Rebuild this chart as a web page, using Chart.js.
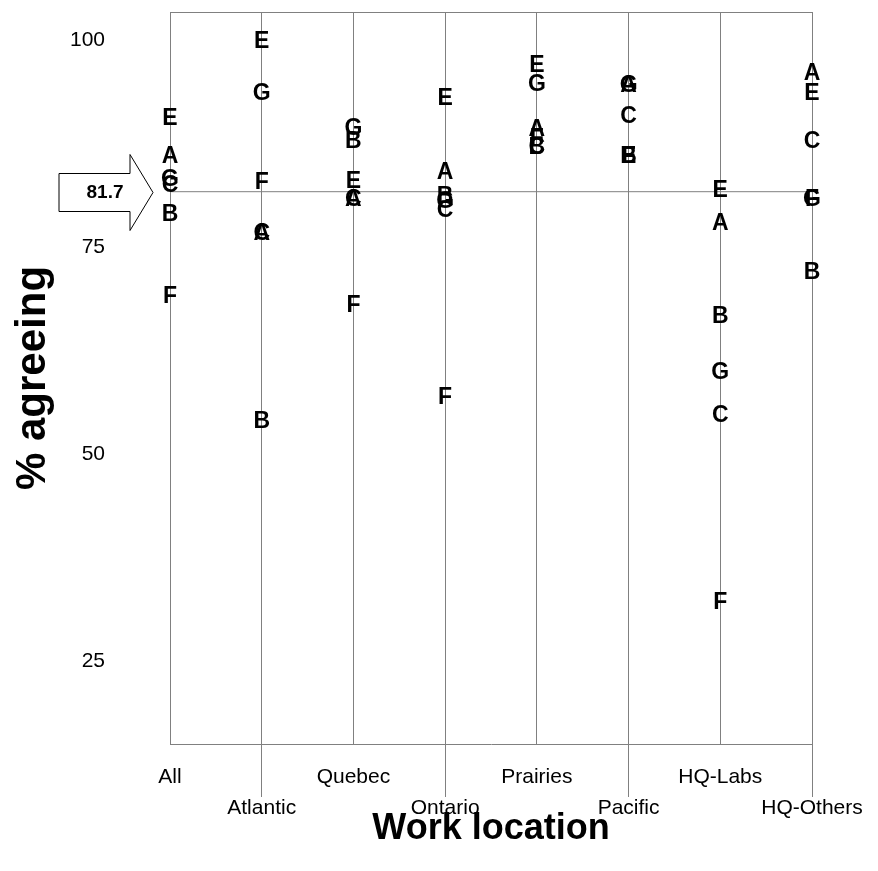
<!DOCTYPE html>
<html><head><meta charset="utf-8">
<script src="https://cdn.jsdelivr.net/npm/chart.js@4"></script>
<style>html,body{margin:0;padding:0;background:#fff}#wrap{width:878px;height:871px}</style>
</head><body><div id="wrap"><canvas id="c" width="878" height="871"></canvas></div>
<script>
const categories = ['All','Atlantic','Quebec','Ontario','Prairies','Pacific','HQ-Labs','HQ-Others'];
const letters = ['A','B','C','E','F','G'];
const seriesA = [86.0, 76.7, 80.9, 84.1, 89.3, 94.6, 77.9, 96.1];
const seriesB = [79.1, 54.0, 87.9, 81.2, 87.1, 86.1, 66.7, 72.0];
const seriesC = [82.6, 76.7, 80.9, 79.5, 87.1, 90.9, 54.8, 87.9];
const seriesE = [90.7, 99.9, 83.0, 93.0, 97.0, 86.1, 81.9, 93.7];
const seriesF = [69.1, 82.9, 68.0, 56.9, 88.2, 86.1, 32.2, 80.9];
const seriesG = [83.3, 93.7, 89.4, 80.6, 94.7, 94.6, 60.0, 80.9];
const overallValue = 81.7;
const yTicks = [25, 50, 75, 100];

const FONT = "'Liberation Sans', Arial, sans-serif";
Chart.defaults.font.family = FONT;
const GRAY = '#808080';

const allSeries = [seriesA, seriesB, seriesC, seriesE, seriesF, seriesG];
const letterSets = allSeries.map((s, k) => ({
  label: letters[k],
  data: s.map((v, i) => ({x: i, y: v})),
  pointRadius: 0,
  pointHoverRadius: 0,
  showLine: false
}));
const refLine = {
  label: 'overall',
  data: [{x: 0, y: overallValue}, {x: categories.length - 1, y: overallValue}],
  showLine: true,
  borderColor: GRAY,
  borderWidth: 1,
  pointRadius: 0,
  fill: false
};

const boxPlugin = {
  id: 'box',
  beforeDatasetsDraw(chart) {
    const {ctx, chartArea: a} = chart;
    ctx.save();
    ctx.strokeStyle = GRAY;
    ctx.lineWidth = 1;
    ctx.beginPath();
    ctx.moveTo(a.left, Math.round(a.top) + 0.5);
    ctx.lineTo(a.right, Math.round(a.top) + 0.5);
    ctx.stroke();
    ctx.restore();
  }
};

const letterPlugin = {
  id: 'letters',
  afterDatasetsDraw(chart) {
    const ctx = chart.ctx;
    ctx.save();
    ctx.font = 'bold 23px ' + FONT;
    ctx.fillStyle = '#000';
    ctx.textAlign = 'center';
    ctx.textBaseline = 'middle';
    chart.data.datasets.forEach((ds, di) => {
      if (di === 0) return;
      const meta = chart.getDatasetMeta(di);
      meta.data.forEach(pt => ctx.fillText(ds.label, pt.x, pt.y + 1));
    });
    ctx.restore();
  }
};

const arrowPlugin = {
  id: 'arrow',
  afterDraw(chart) {
    const ctx = chart.ctx;
    const y = Math.round(chart.scales.y.getPixelForValue(overallValue)) + 0.5;
    const l = chart.chartArea.left;
    ctx.save();
    ctx.beginPath();
    ctx.moveTo(l - 111, y - 19);
    ctx.lineTo(l - 40, y - 19);
    ctx.lineTo(l - 40, y - 38);
    ctx.lineTo(l - 17, y);
    ctx.lineTo(l - 40, y + 38);
    ctx.lineTo(l - 40, y + 19);
    ctx.lineTo(l - 111, y + 19);
    ctx.closePath();
    ctx.fillStyle = '#fff';
    ctx.fill();
    ctx.strokeStyle = '#000';
    ctx.lineWidth = 1;
    ctx.stroke();
    ctx.fillStyle = '#000';
    ctx.font = 'bold 19px ' + FONT;
    ctx.textAlign = 'center';
    ctx.textBaseline = 'middle';
    ctx.fillText(String(overallValue), l - 65, y);
    ctx.restore();
  }
};

new Chart(document.getElementById('c'), {
  type: 'scatter',
  data: {datasets: [refLine, ...letterSets]},
  options: {
    responsive: false,
    animation: false,
    devicePixelRatio: 1,
    layout: {padding: {top: 12, right: 66, left: 0, bottom: 0}},
    plugins: {legend: {display: false}, tooltip: {enabled: false}},
    scales: {
      x: {
        type: 'linear', min: 0, max: categories.length - 1,
        afterBuildTicks: s => { s.ticks = categories.map((c, i) => ({value: i})); },
        afterFit: s => { s.height = 127; },
        ticks: {
          autoSkip: false, maxRotation: 0, minRotation: 0,
          padding: -35.5,
          color: '#000',
          font: {size: 21, lineHeight: 31 / 21},
          callback: (v, i) => (i % 2 ? ['', categories[i]] : [categories[i], ''])
        },
        grid: {
          display: true, drawOnChartArea: true, color: GRAY, lineWidth: 1,
          drawTicks: true, tickLength: 53,
          tickColor: c => (c.index % 2 ? GRAY : 'rgba(0,0,0,0)')
        },
        border: {display: true, color: GRAY, width: 1},
        title: {
          display: true, text: 'Work location', color: '#000',
          font: {size: 36, weight: 'bold', lineHeight: 1.2},
          padding: {top: 0, bottom: 20}
        }
      },
      y: {
        type: 'linear', min: 15, max: 103.4,
        afterBuildTicks: s => { s.ticks = yTicks.map(v => ({value: v})); },
        afterFit: s => { s.width = 170; },
        ticks: {padding: 0, color: '#000', font: {size: 21, lineHeight: 1}},
        grid: {
          display: true, drawOnChartArea: false, drawTicks: true,
          tickLength: 65, tickColor: 'rgba(0,0,0,0)'
        },
        border: {display: false},
        title: {
          display: true, text: '% agreeing', color: '#000',
          font: {size: 42, weight: 'bold', lineHeight: 1.2},
          padding: {top: 8, bottom: 0}
        }
      }
    }
  },
  plugins: [boxPlugin, letterPlugin, arrowPlugin]
});
</script>
</body></html>
